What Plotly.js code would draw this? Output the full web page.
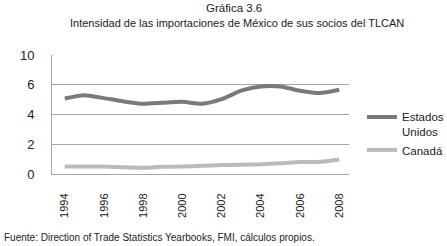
<!DOCTYPE html>
<html>
<head>
<meta charset="utf-8">
<script src="https://cdn.plot.ly/plotly-3.0.1.min.js"></script>
<style>html,body{margin:0;padding:0;background:#fff;}#chart{width:447px;height:246px;}</style>
</head>
<body>
<div id="chart"></div>
<script>
const years = [1994,1995,1996,1997,1998,1999,2000,2001,2002,2003,2004,2005,2006,2007,2008];
const estadosUnidos = [5.08,5.3,5.1,4.88,4.72,4.79,4.85,4.72,5.03,5.6,5.88,5.88,5.6,5.44,5.66];
const canada = [0.51,0.5,0.5,0.45,0.42,0.48,0.5,0.55,0.6,0.62,0.65,0.72,0.8,0.82,0.98];
const yTickVals = [0,2,4,6,8];
const yTickText = ['0','2','4','6','10'];
const xTickVals = [1994,1996,1998,2000,2002,2004,2006,2008];
const titleLine1 = 'Gráfica 3.6';
const titleLine2 = 'Intensidad de las importaciones de México de sus socios del TLCAN';
const sourceText = 'Fuente: Direction of Trade Statistics Yearbooks, FMI, cálculos propios.';

const FONT = '"Liberation Sans Narrow", "Arial Narrow", "Liberation Sans", Arial, sans-serif';
const TXT = '#222';

// plot area in pixels
const L = 52, R = 349, T = 55, B = 174;
const px = x => (x - L) / (R - L);
const py = y => (B - y) / (B - T);

const traces = [
  {x: years, y: estadosUnidos, name: 'Estados<br>Unidos', type: 'scatter', mode: 'lines',
   line: {color: '#7a7a7a', width: 4, shape: 'spline', smoothing: 0.6}},
  {x: years, y: canada, name: 'Canadá', type: 'scatter', mode: 'lines',
   line: {color: '#bababa', width: 4, shape: 'spline', smoothing: 0.6}}
];

const layout = {
  width: 447, height: 246,
  margin: {l: L, r: 447 - R, t: T, b: 246 - B, autoexpand: false},
  paper_bgcolor: '#fff', plot_bgcolor: '#fff',
  font: {family: FONT, size: 12, color: TXT},
  showlegend: true,
  legend: {x: px(362), y: py(103), xanchor: 'left', yanchor: 'top', valign: 'top',
           font: {family: FONT, size: 11.5, color: TXT}, bgcolor: 'rgba(0,0,0,0)'},
  xaxis: {range: [1993.35, 2008.5], tickvals: xTickVals, tickangle: -90,
          ticks: 'outside', ticklen: 14, tickcolor: 'rgba(0,0,0,0)',
          showgrid: false, zeroline: false, showline: true, linecolor: '#a6a6a6', linewidth: 1,
          tickfont: {family: FONT, size: 11, color: TXT}, fixedrange: true},
  yaxis: {range: [0, 8], tickvals: yTickVals, ticktext: yTickText,
          ticks: 'outside', ticklen: 14, tickcolor: 'rgba(0,0,0,0)',
          showgrid: true, gridcolor: '#a6a6a6', gridwidth: 1, zeroline: false,
          showline: true, linecolor: '#a6a6a6', linewidth: 1,
          tickfont: {family: FONT, size: 13, color: TXT}, fixedrange: true},
  annotations: [
    {text: titleLine1, xref: 'paper', yref: 'paper', x: px(234), y: py(8),
     xanchor: 'center', yanchor: 'middle', showarrow: false,
     font: {family: FONT, size: 11.5, color: TXT}},
    {text: titleLine2, xref: 'paper', yref: 'paper', x: px(237), y: py(23),
     xanchor: 'center', yanchor: 'middle', showarrow: false,
     font: {family: FONT, size: 11, color: TXT}},
    {text: sourceText, xref: 'paper', yref: 'paper', x: px(2), y: py(237),
     xanchor: 'left', yanchor: 'middle', showarrow: false,
     font: {family: FONT, size: 10, color: TXT}}
  ]
};

Plotly.newPlot('chart', traces, layout, {staticPlot: true, displayModeBar: false});
</script>
</body>
</html>
